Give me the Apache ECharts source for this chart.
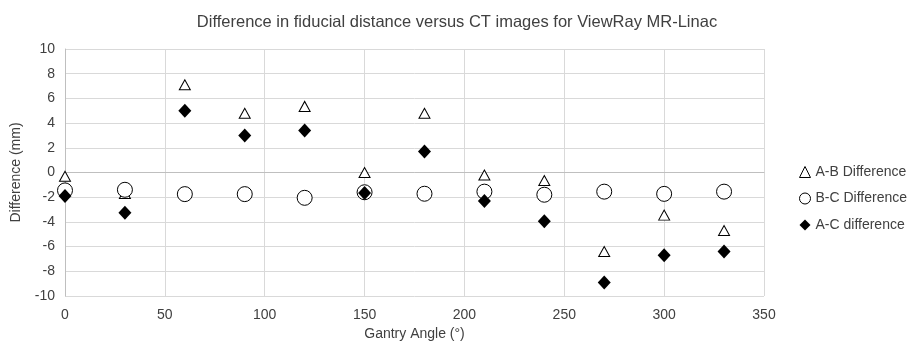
<!DOCTYPE html>
<html><head><meta charset="utf-8">
<script src="https://cdn.jsdelivr.net/npm/echarts@6/dist/echarts.min.js"></script>
<style>html,body{margin:0;padding:0;background:#fff}#c{width:911px;height:347px}</style>
</head><body><div id="c"></div>
<script>
const angles = [0, 30, 60, 90, 120, 150, 180, 210, 240, 270, 300, 330];
const abDiff = [-0.3, -1.7, 7.1, 4.8, 5.35, 0.0, 4.8, -0.2, -0.65, -6.4, -3.45, -4.7];
const bcDiff = [-1.45, -1.4, -1.75, -1.75, -2.05, -1.6, -1.72, -1.55, -1.8, -1.55, -1.73, -1.55];
const acDiff = [-1.9, -3.25, 5.0, 3.0, 3.4, -1.65, 1.7, -2.3, -3.95, -8.9, -6.7, -6.4];
const seriesNames = ['A-B Difference', 'B-C Difference', 'A-C difference'];
const titleText = 'Difference in fiducial distance versus CT images for ViewRay MR-Linac';
const xName = 'Gantry Angle (°)';
const yName = 'Difference (mm)';

const font = "'Liberation Sans',sans-serif";
const tri = 'path://M0,10 L5,0 L10,10 Z';
const pair = (vals) => angles.map((a, i) => [a, vals[i]]);
const chart = echarts.init(document.getElementById('c'), null, {renderer: 'canvas'});
chart.setOption({
  animation: false,
  backgroundColor: '#fff',
  title: {text: titleText, left: 452, textAlign: 'center', top: 9,
    textStyle: {fontFamily: font, fontSize: 16.5, fontWeight: 'normal', color: '#404040'}},
  grid: {left: 65, right: 147, top: 49, bottom: 51, containLabel: false},
  legend: {
    orient: 'vertical', left: 794, top: 160, itemGap: 12.5, itemWidth: 11, itemHeight: 11,
    textStyle: {fontFamily: font, fontSize: 14, color: '#404040'},
    data: [
      {name: seriesNames[0], icon: tri, itemStyle: {color: '#fff', borderColor: '#000', borderWidth: 1, opacity: 1}},
      {name: seriesNames[1], icon: 'circle', itemStyle: {color: '#fff', borderColor: '#000', borderWidth: 1, opacity: 1}},
      {name: seriesNames[2], icon: 'diamond', itemStyle: {color: '#000', opacity: 1}}
    ]
  },
  xAxis: {type: 'value', min: 0, max: 350, interval: 50,
    name: xName, nameLocation: 'middle', nameGap: 28,
    nameTextStyle: {fontFamily: font, fontSize: 14, color: '#404040'},
    axisLine: {show: true, lineStyle: {color: '#bfbfbf'}}, axisTick: {show: false},
    axisLabel: {fontFamily: font, fontSize: 14, color: '#404040', margin: 12},
    splitLine: {show: true, lineStyle: {color: '#d9d9d9'}}},
  yAxis: {type: 'value', min: -10, max: 10, interval: 2,
    name: yName, nameLocation: 'middle', nameGap: 42, nameRotate: 90,
    nameTextStyle: {fontFamily: font, fontSize: 14, color: '#404040'},
    axisLine: {show: true, lineStyle: {color: '#bfbfbf'}}, axisTick: {show: false},
    axisLabel: {fontFamily: font, fontSize: 14, color: '#404040', margin: 10},
    splitLine: {show: true, lineStyle: {color: '#d9d9d9'}}},
  series: [
    {name: seriesNames[0], type: 'scatter', data: pair(abDiff), symbol: tri, symbolSize: [11, 10],
      itemStyle: {color: '#fff', borderColor: '#000', borderWidth: 1, opacity: 1}, z: 3},
    {name: seriesNames[1], type: 'scatter', data: pair(bcDiff), symbol: 'circle', symbolSize: 15,
      itemStyle: {color: '#fff', borderColor: '#000', borderWidth: 1, opacity: 1}, z: 4},
    {name: seriesNames[2], type: 'scatter', data: pair(acDiff), symbol: 'diamond', symbolSize: [13, 14],
      itemStyle: {color: '#000', opacity: 1}, z: 5}
  ]
});
</script></body></html>
